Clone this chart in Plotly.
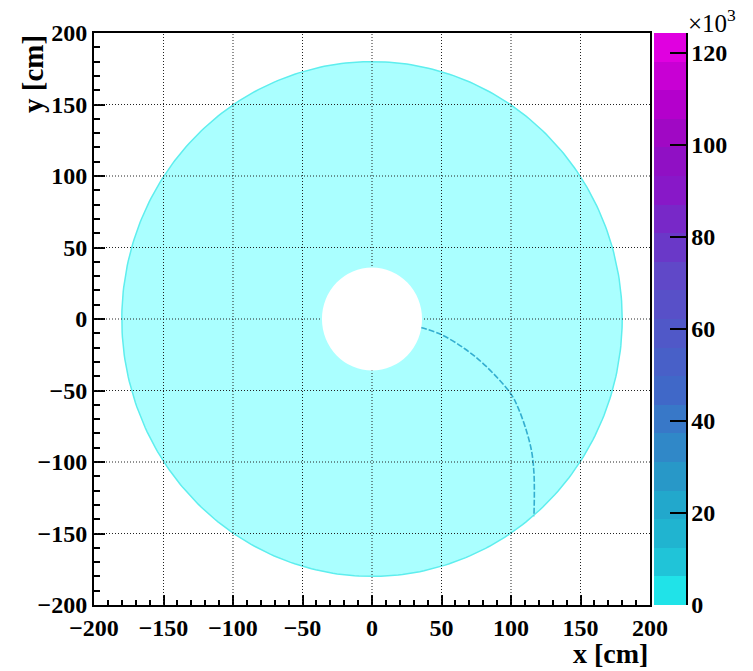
import numpy as np
import plotly.graph_objects as go

# ---- data ----
inner_radius = 36.0      # cm, empty hole
outer_radius = 180.0     # cm, occupied disk
track_x = [35, 49, 67, 82, 100, 105.5, 111.5, 115, 116.5, 116.8, 116.5]
track_y = [-6, -10.5, -21, -33, -52.5, -63, -79.5, -93.5, -107.6, -121.7, -138]
z_min, z_max = 0.0, 124.3          # in units of 10^3
cbar_ticks = [0, 20, 40, 60, 80, 100, 120]
axis_ticks = [-200, -150, -100, -50, 0, 50, 100, 150, 200]
band_colors = ["#20e3e8", "#20c4d8", "#20b4d0", "#22a8cc", "#2898c8",
               "#3088c8", "#3878c8", "#4068c8", "#4860c8", "#5058c8",
               "#5850c8", "#6048c8", "#6a38c8", "#7828c8", "#8818c8",
               "#9010c4", "#a008c4", "#b400cc", "#c800d4", "#e000e0"]
fill_color = "#aaffff"
edge_color = "#5eeeee"
track_color = "#34aed0"

FONT = "Liberation Serif, Times New Roman, serif"

# discrete colour scale
n = len(band_colors)
cscale = []
for i, c in enumerate(band_colors):
    cscale.append([i / n, c])
    cscale.append([(i + 1) / n, c])

fig = go.Figure()

# occupied disk (outline of the histogram region)
ang = np.linspace(0, 2 * np.pi, 361)
fig.add_trace(go.Scatter(
    x=outer_radius * np.cos(ang), y=outer_radius * np.sin(ang),
    mode="lines", fill="toself", fillcolor=fill_color,
    line=dict(color=edge_color, width=1.5), hoverinfo="skip", showlegend=False))

# track
fig.add_trace(go.Scatter(
    x=track_x, y=track_y, mode="lines",
    line=dict(color=track_color, width=1.6, dash="6px,2px", shape="spline"),
    showlegend=False))

# colour bar carrier
fig.add_trace(go.Scatter(
    x=[None], y=[None], mode="markers", showlegend=False,
    marker=dict(color=[z_min, z_max], colorscale=cscale, cmin=z_min, cmax=z_max,
                showscale=True,
                colorbar=dict(
                    x=(654 - 94) / 556, xanchor="left", xpad=0,
                    y=0.5, yanchor="middle", ypad=0, len=1, lenmode="fraction",
                    thickness=32, outlinewidth=0,
                    tickvals=cbar_ticks, ticks="inside", ticklen=16,
                    tickwidth=2, tickcolor="black",
                    tickfont=dict(family=FONT, size=24, color="black", weight="bold"),
                    ticklabelposition="outside"))))

# dotted grid on top of the fill
shapes = []
for t in axis_ticks[1:-1]:
    shapes.append(dict(type="line", xref="x", yref="y", x0=t, x1=t,
                       y0=axis_ticks[0], y1=axis_ticks[-1], layer="above",
                       line=dict(color="#222222", width=1, dash="1px,2px")))
    shapes.append(dict(type="line", xref="x", yref="y", y0=t, y1=t,
                       x0=axis_ticks[0], x1=axis_ticks[-1], layer="above",
                       line=dict(color="#222222", width=1, dash="1px,2px")))
# the empty hole
shapes.append(dict(type="circle", xref="x", yref="y",
                   x0=-inner_radius, x1=inner_radius, y0=-inner_radius, y1=inner_radius,
                   fillcolor="white", line=dict(width=0), layer="above"))
# colour bar right axis line
shapes.append(dict(type="line", xref="paper", yref="paper",
                   x0=(687 - 94) / 556, x1=(687 - 94) / 556, y0=0, y1=1,
                   line=dict(color="black", width=2)))

tickfont = dict(family=FONT, size=24, color="black", weight="bold")
common = dict(range=[axis_ticks[0], axis_ticks[-1]], tickvals=axis_ticks,
              ticks="inside", tickwidth=2, tickcolor="black",
              showgrid=False, zeroline=False, showline=True, linecolor="black",
              linewidth=2, mirror=True, tickfont=tickfont, fixedrange=True)

fig.update_xaxes(**common, ticklen=10,
                 minor=dict(dtick=10, ticks="inside", ticklen=5, tickwidth=2,
                            tickcolor="black", showgrid=False))
fig.update_yaxes(**common, ticklen=11,
                 minor=dict(dtick=10, ticks="inside", ticklen=6, tickwidth=2,
                            tickcolor="black", showgrid=False))

annotations = [
    dict(text="x [cm]", xref="paper", yref="paper", x=1.0, y=(605 - 653) / 572,
         xanchor="right", yanchor="middle", showarrow=False,
         font=dict(family=FONT, size=28, color="black", weight="bold")),
    dict(text="y [cm]", xref="paper", yref="paper", x=(33 - 94) / 556, y=1.0,
         xanchor="center", yanchor="top", textangle=-90, showarrow=False,
         font=dict(family=FONT, size=29, color="black", weight="bold")),
    dict(text="×10<sup>3</sup>", xref="paper", yref="paper",
         x=(712 - 94) / 556, y=(605 - 21) / 572, xanchor="center", yanchor="middle",
         showarrow=False, font=dict(family=FONT, size=25, color="black")),
]

fig.update_layout(
    width=753, height=671,
    margin=dict(l=94, r=103, t=33, b=66, autoexpand=False),
    paper_bgcolor="white", plot_bgcolor="white",
    shapes=shapes, annotations=annotations, showlegend=False)

fig.write_html("out.html")
